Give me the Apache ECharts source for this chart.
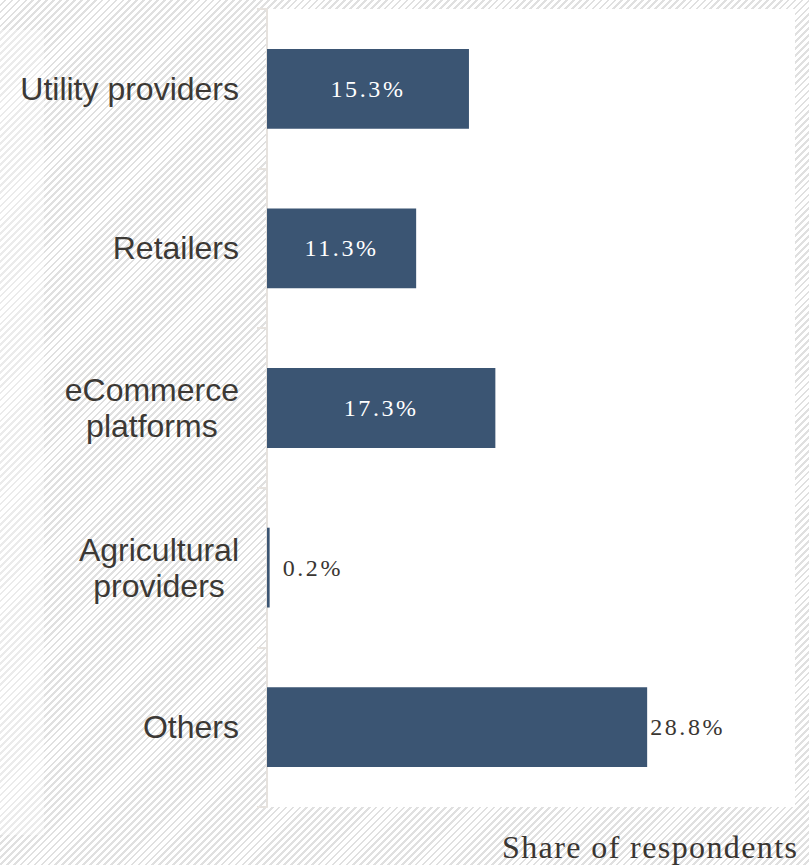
<!DOCTYPE html>
<html>
<head>
<meta charset="utf-8">
<script src="https://cdn.jsdelivr.net/npm/echarts@6/dist/echarts.min.js"></script>
<style>
  html, body { margin: 0; padding: 0; }
  #wrap {
    position: relative;
    width: 809px;
    height: 865px;
    background: repeating-linear-gradient(135deg, #ffffff 0px, #ffffff 3px, #e0e0e0 3px, #e0e0e0 4.9px);
    overflow: hidden;
  }
  #fade {
    position: absolute;
    left: 0; top: 30px; width: 44px; height: 805px;
    background: rgba(255, 255, 255, 0.35);
  }
  #chart { position: absolute; left: 0; top: 0; width: 809px; height: 865px; }
  /* serif texts (value labels) are set with wide tracking */
  #chart text[style*="Liberation Serif"] { letter-spacing: 2.6px; }
  #chart text[style*="32px"][style*="Liberation Serif"] { letter-spacing: 1.4px; }
</style>
</head>
<body>
<div id="wrap">
  <div id="fade"></div>
  <div id="chart"></div>
</div>
<script>
// Categories and values (share of respondents, %)
const categories = [
  'Utility providers',
  'Retailers',
  'eCommerce\nplatforms',
  'Agricultural\nproviders',
  'Others'
];
const shares = [15.3, 11.3, 17.3, 0.2, 28.8];
const axisTitle = 'Share of respondents';

const BAR = '#3b5573';
const SERIF = '"Liberation Serif", "Times New Roman", serif';
const SANS = '"Liberation Sans", Arial, sans-serif';

// Small bars get their label outside, to the right
const barData = shares.map(function (v) {
  const outside = v < 5 || v > 25;
  return {
    value: v,
    label: outside
      ? { position: 'right', color: '#3a3632', distance: v < 5 ? 13 : 3 }
      : { position: 'inside', color: '#ffffff' }
  };
});

const chart = echarts.init(document.getElementById('chart'), null, { renderer: 'svg' });
chart.setOption({
  backgroundColor: 'transparent',
  animation: false,
  grid: {
    left: 267, right: 14, top: 9, bottom: 58,
    show: true, backgroundColor: '#ffffff', borderWidth: 0
  },
  xAxis: {
    type: 'value',
    min: 0,
    max: 40,
    show: false
  },
  yAxis: {
    type: 'category',
    inverse: true,
    data: categories,
    axisLine: { show: true, lineStyle: { color: '#e6e2de', width: 2 } },
    axisTick: { show: true, length: 10, lineStyle: { color: '#e6e2de', width: 2 } },
    axisLabel: {
      margin: 28,
      align: 'right',
      formatter: function (s) {
        return s.split('\n').map(function (l) { return '{c|' + l + '}'; }).join('\n');
      },
      rich: {
        c: {
          align: 'center',
          fontFamily: SANS,
          fontSize: 32,
          lineHeight: 36,
          color: '#3c3935'
        }
      }
    }
  },
  series: [{
    type: 'bar',
    data: barData,
    barCategoryGap: '50%',
    itemStyle: { color: BAR },
    label: {
      show: true,
      fontFamily: SERIF,
      fontSize: 24,
      formatter: function (p) { return p.value.toFixed(1) + '%'; }
    }
  }],
  graphic: [{
    type: 'text',
    x: 502,
    y: 847,
    style: {
      text: axisTitle,
      fontFamily: SERIF,
      fontSize: 32,
      fill: '#3a3632',
      textAlign: 'left',
      textVerticalAlign: 'middle'
    }
  }]
});
</script>
</body>
</html>
